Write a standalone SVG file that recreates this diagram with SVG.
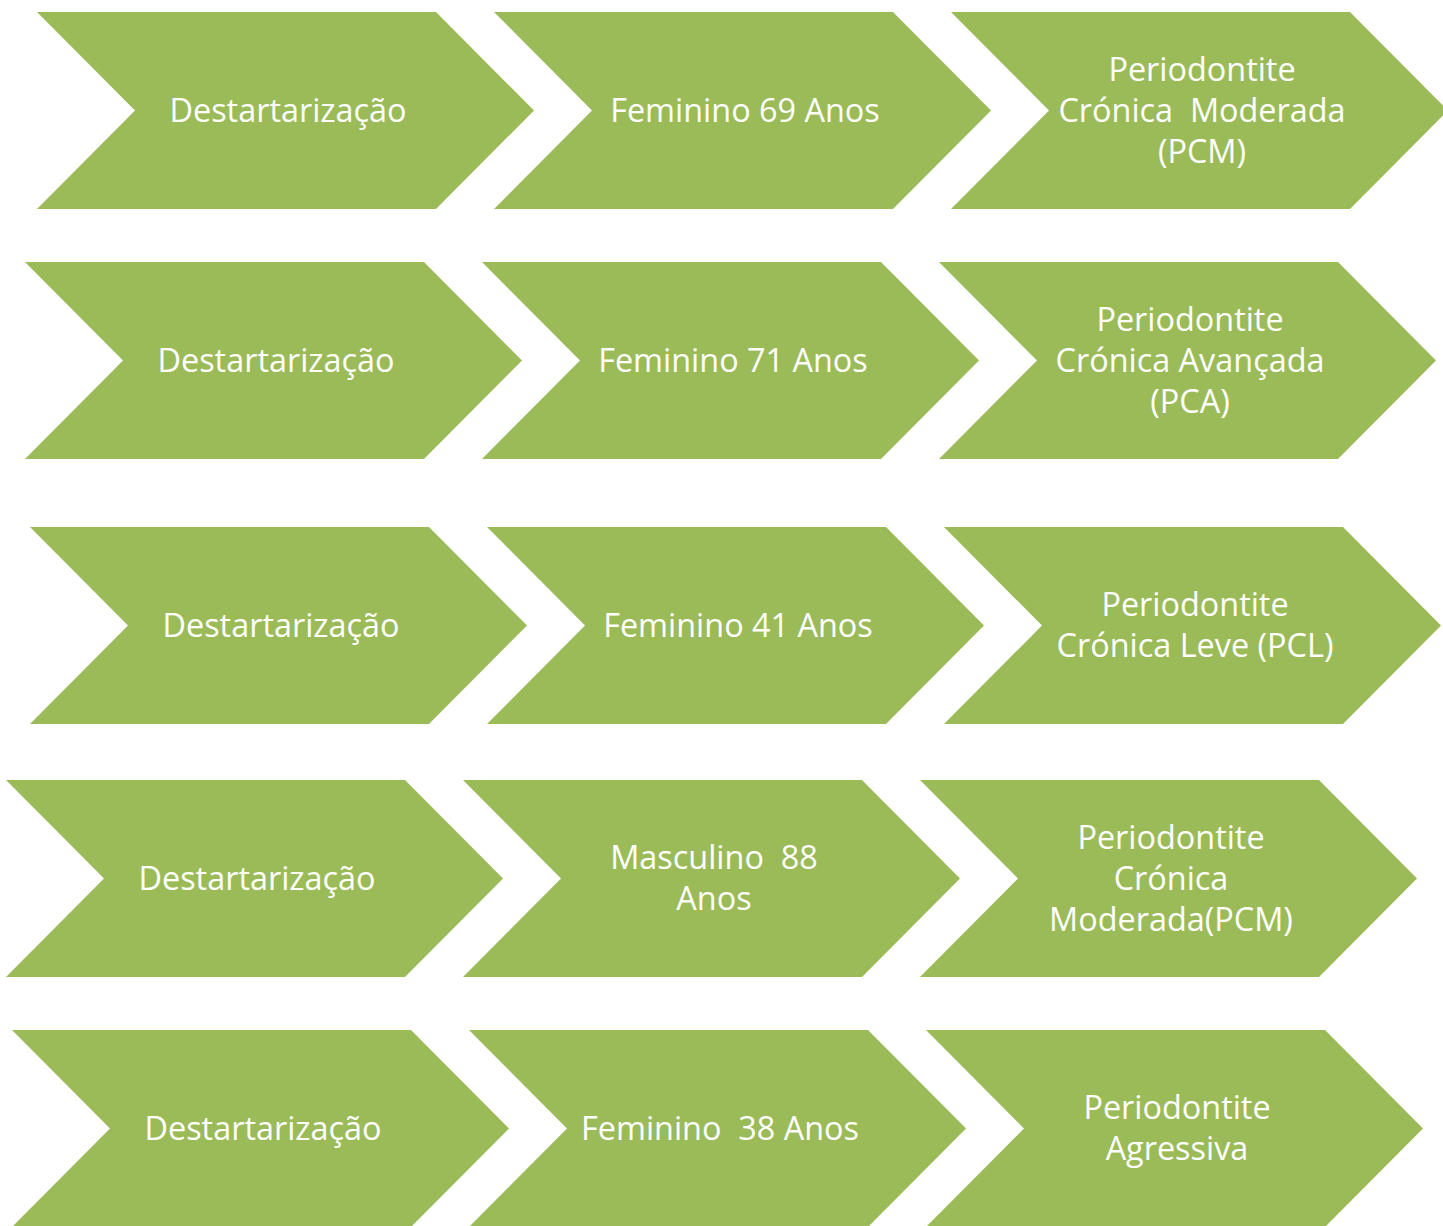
<svg xmlns="http://www.w3.org/2000/svg" width="1443" height="1226" viewBox="0 0 1443 1226">
<style>
.chev{fill:#9BBB59;}
.t{fill:#ffffff;font-family:"Open Sans","Noto Sans","Liberation Sans",sans-serif;font-size:32.4px;text-anchor:middle;white-space:pre;}
</style>
<defs>
<polygon id="chevron" class="chev" points="0,0 399,0 497,98.5 399,197 0,197 98,98.5"/>
</defs>
<rect width="1443" height="1226" fill="#ffffff"/>
<g id="connectors"></g>
<!-- Row 1 -->
<g id="r1c1"><use href="#chevron" x="37" y="12"/><text class="t" x="288" y="122">Destartarização</text></g>
<g id="r1c2"><use href="#chevron" x="494" y="12"/><text class="t" x="745" y="122">Feminino 69 Anos</text></g>
<g id="r1c3"><use href="#chevron" x="951" y="12"/><text class="t" x="1202" y="81">Periodontite</text><text class="t" x="1202" y="122">Crónica  Moderada</text><text class="t" x="1202" y="163">(PCM)</text></g>
<!-- Row 2 -->
<g id="r2c1"><use href="#chevron" x="25" y="262"/><text class="t" x="276" y="372">Destartarização</text></g>
<g id="r2c2"><use href="#chevron" x="482" y="262"/><text class="t" x="733" y="372">Feminino 71 Anos</text></g>
<g id="r2c3"><use href="#chevron" x="939" y="262"/><text class="t" x="1190" y="331">Periodontite</text><text class="t" x="1190" y="372">Crónica Avançada</text><text class="t" x="1190" y="413">(PCA)</text></g>
<!-- Row 3 -->
<g id="r3c1"><use href="#chevron" x="30" y="527"/><text class="t" x="281" y="637">Destartarização</text></g>
<g id="r3c2"><use href="#chevron" x="487" y="527"/><text class="t" x="738" y="637">Feminino 41 Anos</text></g>
<g id="r3c3"><use href="#chevron" x="944" y="527"/><text class="t" x="1195" y="616">Periodontite</text><text class="t" x="1195" y="657">Crónica Leve (PCL)</text></g>
<!-- Row 4 -->
<g id="r4c1"><use href="#chevron" x="6" y="780"/><text class="t" x="257" y="890">Destartarização</text></g>
<g id="r4c2"><use href="#chevron" x="463" y="780"/><text class="t" x="714" y="869">Masculino  88</text><text class="t" x="714" y="910">Anos</text></g>
<g id="r4c3"><use href="#chevron" x="920" y="780"/><text class="t" x="1171" y="849">Periodontite</text><text class="t" x="1171" y="890">Crónica</text><text class="t" x="1171" y="931">Moderada(PCM)</text></g>
<!-- Row 5 -->
<g id="r5c1"><use href="#chevron" x="12" y="1030"/><text class="t" x="263" y="1140">Destartarização</text></g>
<g id="r5c2"><use href="#chevron" x="469" y="1030"/><text class="t" x="720" y="1140">Feminino  38 Anos</text></g>
<g id="r5c3"><use href="#chevron" x="926" y="1030"/><text class="t" x="1177" y="1119">Periodontite</text><text class="t" x="1177" y="1160">Agressiva</text></g>
</svg>
